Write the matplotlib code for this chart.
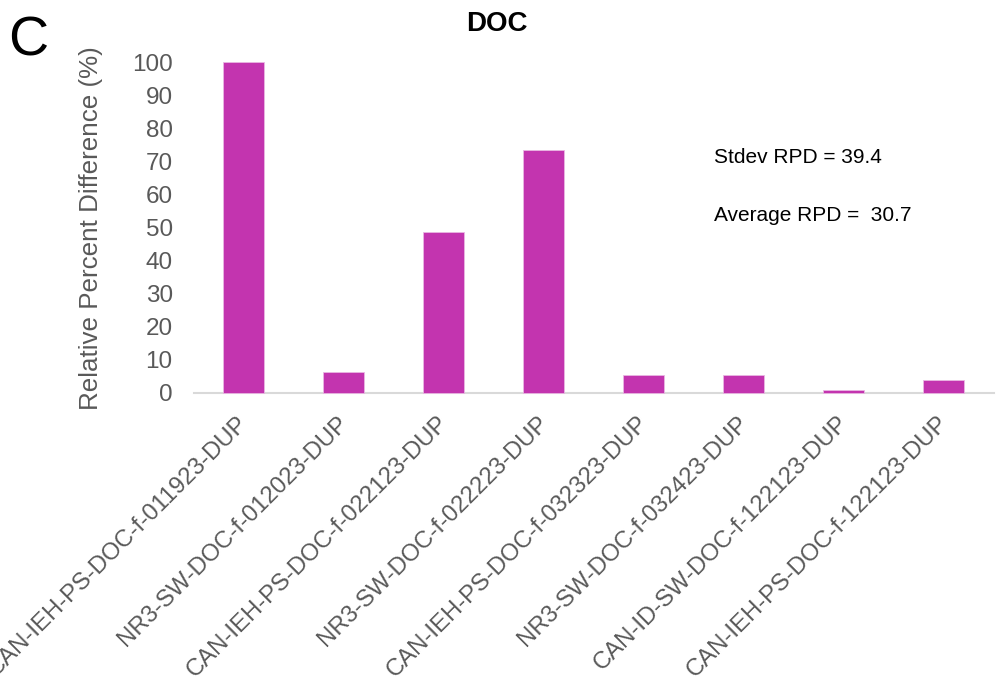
import numpy as np
import matplotlib.pyplot as plt
from matplotlib.transforms import ScaledTranslation

plt.rcParams['font.family'] = ['Liberation Sans', 'DejaVu Sans']

# Sample duplicates and their relative percent difference
samples = ['CAN-IEH-PS-DOC-f-011923-DUP', 'NR3-SW-DOC-f-012023-DUP',
           'CAN-IEH-PS-DOC-f-022123-DUP', 'NR3-SW-DOC-f-022223-DUP',
           'CAN-IEH-PS-DOC-f-032323-DUP', 'NR3-SW-DOC-f-032423-DUP',
           'CAN-ID-SW-DOC-f-122123-DUP', 'CAN-IEH-PS-DOC-f-122123-DUP']
rpd = [100.4, 6.1, 48.7, 73.7, 5.2, 5.2, 0.8, 3.8]
y_ticks = [0, 10, 20, 30, 40, 50, 60, 70, 80, 90, 100]

stdev_rpd = 39.4
avg_rpd = 30.7

grey = '#595959'

fig = plt.figure(figsize=(9.96, 6.92), dpi=100)
ax = fig.add_axes([0.1943, 0.4328, 0.8032, 0.4762])

x = np.arange(len(samples))
ax.bar(x, rpd, width=0.41, color='#C334AF', edgecolor='#E9B8E3', linewidth=0.6,
       clip_on=False, zorder=3)

ax.set_xlim(-0.5, len(samples) - 0.5)
ax.set_ylim(0, 100)
ax.set_yticks(y_ticks)
ax.tick_params(axis='y', length=0, labelsize=17.5, labelcolor=grey, pad=15)
ax.tick_params(axis='x', length=0, labelsize=17.2, labelcolor=grey, pad=14)
ax.set_xticks(x)
ax.set_xticklabels(samples, rotation=45, ha='right', va='top', rotation_mode='anchor')
# nudge labels a bit left like the excel export
shift = ScaledTranslation(-7 / 100, 0, fig.dpi_scale_trans)
for lbl in ax.get_xticklabels():
    lbl.set_transform(lbl.get_transform() + shift)

for s in ['top', 'right', 'left']:
    ax.spines[s].set_visible(False)
ax.spines['bottom'].set_color('#D9D9D9')
ax.spines['bottom'].set_linewidth(1.5)

ax.set_ylabel('Relative Percent Difference (%)', fontsize=18.7, color=grey, labelpad=21)

fig.text(0.499, 0.965, 'DOC', fontsize=20, fontweight='bold', ha='center', va='center')
fig.text(0.008, 0.940, 'C', fontsize=40, ha='left', va='center')

fig.text(0.717, 0.773, f'Stdev RPD = {stdev_rpd}', fontsize=15, ha='left', va='center')
fig.text(0.717, 0.689, f'Average RPD =  {avg_rpd}', fontsize=15, ha='left', va='center')

fig.savefig('out.png', dpi=100)
